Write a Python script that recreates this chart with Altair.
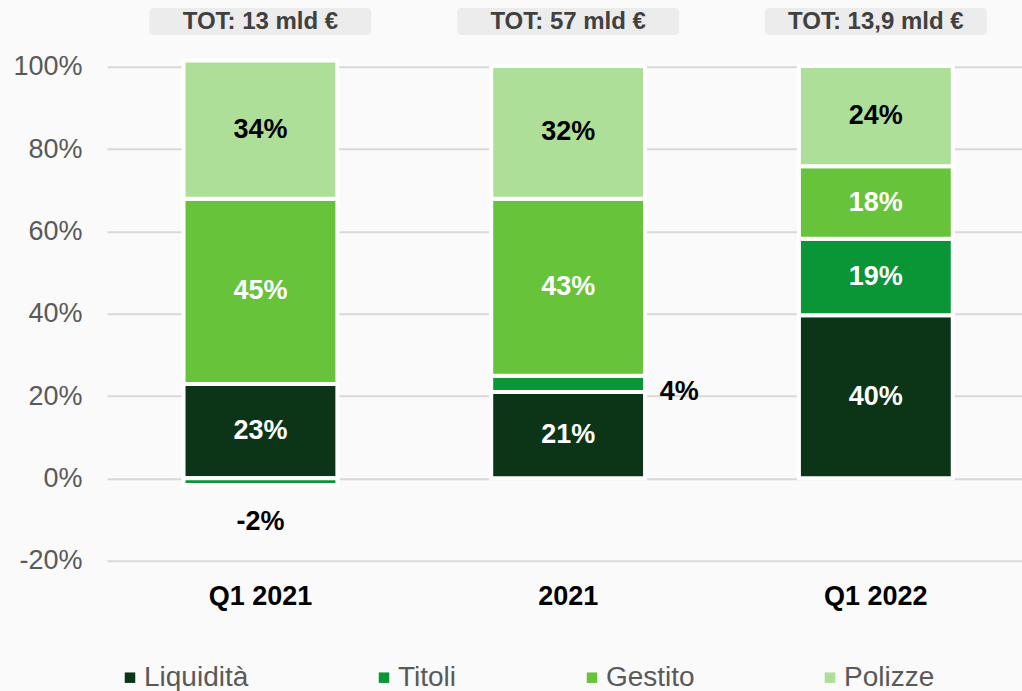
import altair as alt
import pandas as pd

periods = ["Q1 2021", "2021", "Q1 2022"]
categories = ["Liquidità", "Titoli", "Gestito", "Polizze"]
colors = ["#0B3516", "#0A9537", "#66C33A", "#AEDF98"]
liquidita = [22.9, 21.0, 39.6]
titoli = [-1.6, 3.9, 18.6]
gestito = [45.0, 43.0, 17.6]
polizze = [33.6, 32.3, 24.4]
totals = ["TOT: 13 mld €", "TOT: 57 mld €", "TOT: 13,9 mld €"]
y_ticks = [-20, 0, 20, 40, 60, 80, 100]

series = [liquidita, titoli, gestito, polizze]
rows = []
for ci, (cat, vals) in enumerate(zip(categories, series)):
    for p, v in zip(periods, vals):
        rows.append({"period": p, "category": cat, "value": v, "ord": ci})
df = pd.DataFrame(rows)
tot_df = pd.DataFrame({"period": periods, "total": totals})

FONT = "Liberation Sans"

x_scale = alt.Scale(domain=periods, paddingInner=0.5, paddingOuter=0.2368, align=0.525)
y_scale = alt.Scale(domain=[-20, 100], nice=False, zero=False)

x_axis = alt.Axis(
    title=None, labelAngle=0, labelFontSize=27, labelFontWeight="bold",
    labelColor="#000000", labelFont=FONT, labelPadding=23, ticks=False,
    domain=False, grid=False,
)
y_axis = alt.Axis(
    title=None, values=y_ticks, labelExpr="datum.value + '%'",
    labelFontSize=27, labelColor="#595959", labelFont=FONT,
    labelPadding=25, ticks=False, domain=False,
    gridColor="#D9D9D9", gridWidth=2,
)


def xenc():
    return alt.X("period:N", sort=periods, scale=x_scale, axis=x_axis)


bars = alt.Chart(df).mark_bar(stroke="white", strokeWidth=4).encode(
    x=xenc(),
    y=alt.Y("value:Q", stack="zero", scale=y_scale, axis=y_axis),
    color=alt.Color(
        "category:N",
        sort=categories,
        scale=alt.Scale(domain=categories, range=colors),
        legend=alt.Legend(
            orient="none", legendX=9, legendY=597, direction="horizontal",
            columns=4, title=None, symbolType="square", symbolSize=110,
            symbolStrokeWidth=0, labelFontSize=28, labelColor="#595959",
            labelFont=FONT, labelOffset=0, columnPadding=121, padding=0,
        ),
    ),
    order=alt.Order("ord:Q", sort="ascending"),
)

stacked = alt.Chart(df).transform_stack(
    stack="value", groupby=["period"], as_=["y0", "y1"],
    sort=[alt.SortField("ord", order="ascending")],
).transform_calculate(
    mid="(datum.y0 + datum.y1) / 2",
    label="toString(round(datum.value)) + '%'",
)

inside = stacked.transform_filter("abs(datum.value) >= 10").mark_text(
    fontSize=27, fontWeight="bold", font=FONT, baseline="middle",
).encode(
    x=xenc(),
    y=alt.Y("mid:Q", scale=y_scale, axis=y_axis),
    text="label:N",
    color=alt.condition(alt.datum.category == "Polizze", alt.value("#000000"), alt.value("#FFFFFF")),
)

neg = stacked.transform_filter("datum.value < 0").mark_text(
    fontSize=27, fontWeight="bold", font=FONT, baseline="middle", dy=37, color="#000000",
).encode(
    x=xenc(),
    y=alt.Y("y1:Q", scale=y_scale, axis=y_axis),
    text="label:N",
)

small = stacked.transform_filter("datum.value > 0 && datum.value < 10").mark_text(
    fontSize=27, fontWeight="bold", font=FONT, baseline="middle", dx=111, dy=8, color="#000000",
).encode(
    x=xenc(),
    y=alt.Y("mid:Q", scale=y_scale, axis=y_axis),
    text="label:N",
)

boxes = alt.Chart(tot_df).mark_bar(size=222, cornerRadius=4, color="#ECECEC").encode(
    x=xenc(),
    y=alt.value(-58.7),
    y2=alt.value(-31.7),
)

tot_text = alt.Chart(tot_df).mark_text(
    fontSize=24, fontWeight="bold", font=FONT, color="#404040", baseline="middle",
).encode(
    x=xenc(),
    y=alt.value(-44.7),
    text="total:N",
)

chart = alt.layer(bars, inside, neg, small, boxes, tot_text).properties(
    width=915,
    height=494,
    padding={"left": 107, "top": 66.7, "right": 0, "bottom": 130},
    autosize=alt.AutoSizeParams(type="none"),
    background="#FAFAFA",
).configure(font=FONT).configure_view(stroke=None)

chart.save("out.html", embed_options={"renderer": "svg", "actions": False})
